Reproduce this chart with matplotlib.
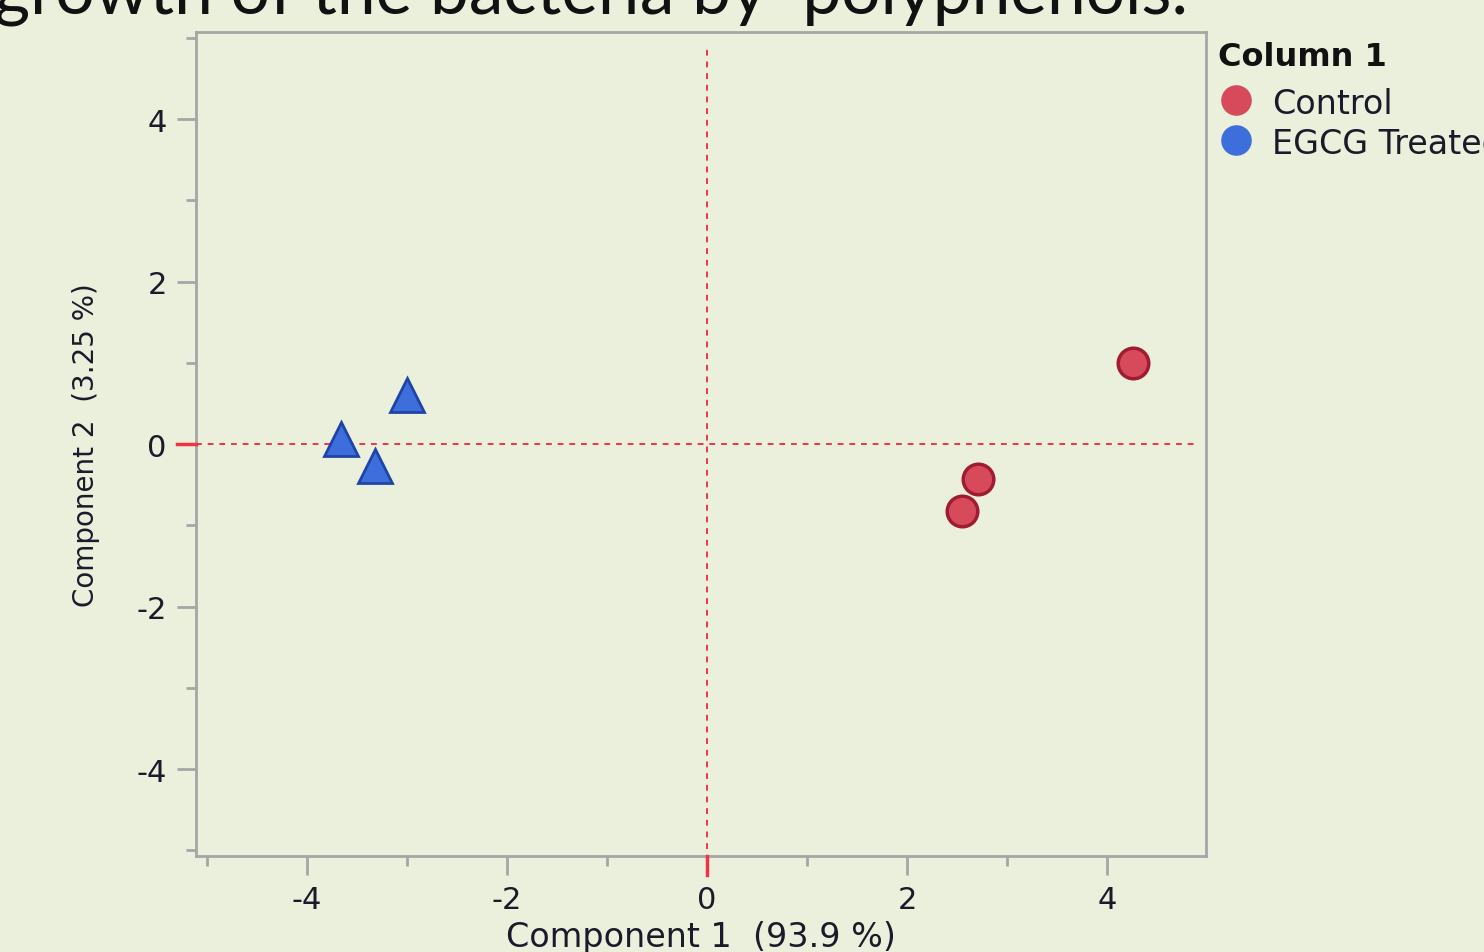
import numpy as np
import matplotlib.pyplot as plt
from matplotlib.ticker import MultipleLocator
from matplotlib.transforms import blended_transform_factory

# PCA scores
control_x = [4.26, 2.71, 2.55]
control_y = [1.00, -0.43, -0.83]
egcg_x = [-3.66, -3.00, -3.32]
egcg_y = [0.06, 0.60, -0.27]
groups = ['Control', 'EGCG Treated']
major_ticks = [-4, -2, 0, 2, 4]

bg = '#EAF0DC'
grey = '#A6A6A6'
red_line = '#F03448'
txt = '#1A1A2A'

plt.rcParams['font.family'] = ['DejaVu Sans']
fig = plt.figure(figsize=(14.84, 9.53), dpi=100, facecolor=bg)
ax = fig.add_axes([0.1321, 0.1007, 0.6806, 0.8646], facecolor=bg)

ax.axvline(0, color=red_line, lw=1.4, dashes=(3, 3), ymin=0.008, ymax=0.985, zorder=1)
ax.axhline(0, color=red_line, lw=1.4, dashes=(3, 3), xmax=0.989, zorder=1)

ax.plot(control_x, control_y, 'o', ms=22, mfc='#D64A5B', mec='#A01D31', mew=2.5, zorder=3)
ax.plot(egcg_x, egcg_y, '^', ms=25, mfc='#3E6EDC', mec='#1F44A6', mew=2, zorder=3)

ax.set_xlim(-5.11, 4.99)
ax.set_ylim(-5.07, 5.07)
ax.xaxis.set_minor_locator(MultipleLocator(1))
ax.yaxis.set_minor_locator(MultipleLocator(1))
ax.set_xticks(major_ticks)
ax.set_xticklabels([str(v) for v in major_ticks])
ax.set_yticks(major_ticks)
ax.set_yticklabels([str(v) for v in major_ticks])

for s in ax.spines.values():
    s.set_color(grey)
    s.set_linewidth(2)
ax.tick_params(which='major', length=14, width=2, color=grey, labelsize=22,
               labelcolor=txt, pad=7)
ax.tick_params(which='minor', length=7, width=2, color=grey)

# zero ticks drawn in red on top of the grey ones
tx = blended_transform_factory(ax.transData, ax.transAxes)
ty = blended_transform_factory(ax.transAxes, ax.transData)
ax.plot([0, 0], [0, -0.023], color=red_line, lw=2.5, transform=tx, clip_on=False, zorder=5)
ax.plot([0, -0.019], [0, 0], color=red_line, lw=2.5, transform=ty, clip_on=False, zorder=5)

ax.set_xlabel('Component 1  (93.9 %)', fontsize=24, color=txt, labelpad=4)
ax.set_ylabel('Component 2  (3.25 %)', fontsize=20, color=txt, labelpad=26)

# legend outside on the right
fig.text(1218 / 1484, 1 - 58 / 953, 'Column 1', fontsize=23, fontweight='bold',
         color='#111111', va='center', ha='left')
leg_colors = ['#D64A5B', '#3E6EDC']
leg_y = [101, 141]
for lab, c, yy in zip(groups, leg_colors, leg_y):
    fig.lines.append(plt.Line2D([1236 / 1484], [1 - yy / 953], marker='o', ms=21,
                                mfc=c, mec=c, ls='', transform=fig.transFigure))
    fig.text(1272 / 1484, 1 - (yy + 3) / 953, lab, fontsize=24, color=txt,
             va='center', ha='left')

# title, cut at the top of the screenshot
fig.text(-0.004, 1 - 14 / 953, 'growth of the bacteria by  polyphenols.', fontsize=50,
         family=['Lato', 'DejaVu Sans'], color='#111111', va='baseline', ha='left')

fig.savefig('out.png', dpi=100, facecolor=bg)
